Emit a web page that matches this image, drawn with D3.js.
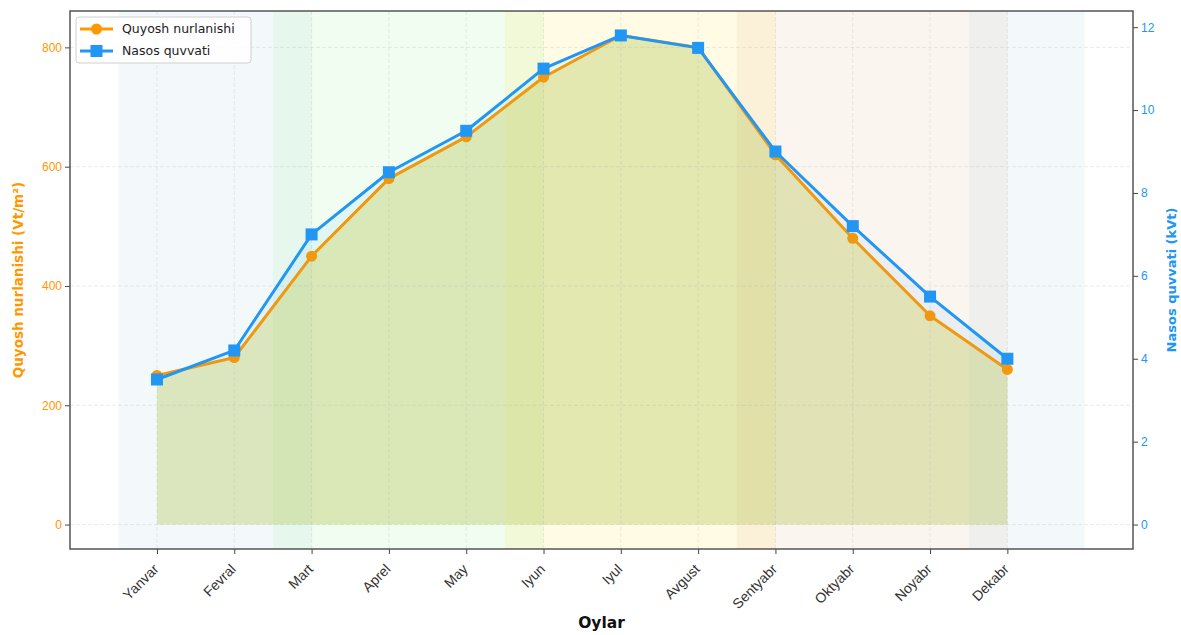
<!DOCTYPE html>
<html>
<head>
<meta charset="utf-8">
<script src="https://cdn.jsdelivr.net/npm/d3@7"></script>
<style>
  body { margin: 0; background: #fff; }
  svg { font-family: "DejaVu Sans", sans-serif; }
</style>
</head>
<body>
<div id="chart"></div>
<script>
// months on the x axis
const months = ['Yanvar', 'Fevral', 'Mart', 'Aprel', 'May', 'Iyun',
                'Iyul', 'Avgust', 'Sentyabr', 'Oktyabr', 'Noyabr', 'Dekabr'];
// solar irradiance, Vt/m2 (left axis)
const solar = [250, 280, 450, 580, 650, 750, 820, 800, 620, 480, 350, 260];
// pump power, kVt (right axis)
const pump = [3.5, 4.2, 7.0, 8.5, 9.5, 11.0, 11.8, 11.5, 9.0, 7.2, 5.5, 4.0];
// tick labels
const leftTicks = [0, 200, 400, 600, 800];
const rightTicks = [0, 2, 4, 6, 8, 10, 12];
// season bands: [start index, end index]
const seasonStart = [0, 2, 5, 8, 11];
const seasonEnd = [2, 5, 8, 11, 12];
const seasonColor = ['#ADD8E6', '#90EE90', '#FFD700', '#CD853F', '#ADD8E6'];
const seasonAlpha = [0.15, 0.13, 0.1, 0.08, 0.15];

const orange = '#FF9800';
const blue = '#2196F3';

const width = 1181;
const height = 635;
const m = {left: 70, right: 1133, top: 11, bottom: 549};

const svg = d3.select('#chart').append('svg')
    .attr('width', width)
    .attr('height', height);

const x = d3.scaleLinear().domain([-1.125, 12.625]).range([m.left, m.right]);
const yL = d3.scaleLinear().domain([-41, 861]).range([m.bottom, m.top]);
const yR = d3.scaleLinear().domain([-0.59, 12.39]).range([m.bottom, m.top]);

// season background
svg.append('g').selectAll('rect')
    .data(seasonStart)
    .enter()
    .append('rect')
    .attr('x', d => x(d - 0.5))
    .attr('width', (d, i) => x(seasonEnd[i]) - x(d - 0.5))
    .attr('y', m.top)
    .attr('height', m.bottom - m.top)
    .style('fill', (d, i) => seasonColor[i])
    .style('fill-opacity', (d, i) => seasonAlpha[i]);

// fill under solar curve
const areaL = d3.area()
    .x((d, i) => x(i))
    .y0(yL(0))
    .y1(d => yL(d));

svg.append('path')
    .datum(solar)
    .attr('d', areaL)
    .style('fill', '#D6CC28')
    .style('fill-opacity', 0.3);

// grid
const grid = svg.append('g')
    .style('stroke', '#b0b0b0')
    .style('stroke-opacity', 0.3)
    .style('stroke-dasharray', '4,2')
    .style('stroke-width', 0.8);

grid.selectAll('.gx')
    .data(months)
    .enter()
    .append('line')
    .attr('x1', (d, i) => x(i))
    .attr('x2', (d, i) => x(i))
    .attr('y1', m.top)
    .attr('y2', m.bottom);

grid.selectAll('.gy')
    .data(leftTicks)
    .enter()
    .append('line')
    .attr('x1', m.left)
    .attr('x2', m.right)
    .attr('y1', d => yL(d))
    .attr('y2', d => yL(d));

// solar line
const lineL = d3.line()
    .x((d, i) => x(i))
    .y(d => yL(d));

svg.append('path')
    .datum(solar)
    .attr('d', lineL)
    .style('fill', 'none')
    .style('stroke', orange)
    .style('stroke-width', 3)
    .style('stroke-linejoin', 'round');

svg.append('g').selectAll('circle')
    .data(solar)
    .enter()
    .append('circle')
    .attr('cx', (d, i) => x(i))
    .attr('cy', d => yL(d))
    .attr('r', 5.5)
    .style('fill', orange);

// fill under pump curve
const areaR = d3.area()
    .x((d, i) => x(i))
    .y0(yR(0))
    .y1(d => yR(d));

svg.append('path')
    .datum(pump)
    .attr('d', areaR)
    .style('fill', blue)
    .style('fill-opacity', 0.07);

const lineR = d3.line()
    .x((d, i) => x(i))
    .y(d => yR(d));

svg.append('path')
    .datum(pump)
    .attr('d', lineR)
    .style('fill', 'none')
    .style('stroke', blue)
    .style('stroke-width', 3)
    .style('stroke-linejoin', 'round');

svg.append('g').selectAll('rect')
    .data(pump)
    .enter()
    .append('rect')
    .attr('x', (d, i) => x(i) - 6)
    .attr('y', d => yR(d) - 6)
    .attr('width', 12)
    .attr('height', 12)
    .style('fill', blue);

// axes
const xAxis = svg.append('g')
    .attr('transform', `translate(0,${m.bottom})`)
    .call(d3.axisBottom(x).tickValues(d3.range(months.length)).tickFormat(i => months[i]).tickSize(5).tickSizeOuter(0));

xAxis.selectAll('text')
    .attr('transform', 'translate(2,21) rotate(-45)')
    .style('text-anchor', 'end')
    .attr('dy', 0)
    .attr('y', 0)
    .attr('x', 0)
    .style('font-size', '14px')
    .style('fill', '#333');

const yAxisL = svg.append('g')
    .attr('transform', `translate(${m.left},0)`)
    .call(d3.axisLeft(yL).tickValues(leftTicks).tickSize(5).tickSizeOuter(0));

yAxisL.selectAll('text')
    .style('font-size', '12px')
    .style('fill', orange);

const yAxisR = svg.append('g')
    .attr('transform', `translate(${m.right},0)`)
    .call(d3.axisRight(yR).tickValues(rightTicks).tickSize(5).tickSizeOuter(0));

yAxisR.selectAll('text')
    .style('font-size', '12px')
    .style('fill', blue);

svg.selectAll('.domain').remove();
svg.selectAll('.tick line').style('stroke', '#444');

// frame
svg.append('rect')
    .attr('x', m.left)
    .attr('y', m.top)
    .attr('width', m.right - m.left)
    .attr('height', m.bottom - m.top)
    .style('fill', 'none')
    .style('stroke', '#555')
    .style('stroke-width', 1.5);

// axis labels
svg.append('text')
    .attr('x', (m.left + m.right) / 2)
    .attr('y', 628)
    .attr('text-anchor', 'middle')
    .style('font-size', '15.5px')
    .style('font-weight', 'bold')
    .style('fill', '#111')
    .text('Oylar');

svg.append('text')
    .attr('transform', `translate(23,${(m.top + m.bottom) / 2}) rotate(-90)`)
    .attr('text-anchor', 'middle')
    .style('font-size', '13.5px')
    .style('font-weight', 'bold')
    .style('fill', orange)
    .text('Quyosh nurlanishi (Vt/m²)');

svg.append('text')
    .attr('transform', `translate(1176,${(m.top + m.bottom) / 2}) rotate(-90)`)
    .attr('text-anchor', 'middle')
    .style('font-size', '13px')
    .style('font-weight', 'bold')
    .style('fill', blue)
    .text('Nasos quvvati (kVt)');

// legend
const legend = svg.append('g');

legend.append('rect')
    .attr('x', 76)
    .attr('y', 17)
    .attr('width', 175)
    .attr('height', 46)
    .attr('rx', 3)
    .style('fill', '#fff')
    .style('fill-opacity', 0.85)
    .style('stroke', '#d0d0d0');

const legendNames = ['Quyosh nurlanishi', 'Nasos quvvati'];
const legendColors = [orange, blue];

legendNames.forEach(function(name, i) {
    const ly = 29 + i * 22;
    legend.append('line')
        .attr('x1', 80).attr('x2', 113)
        .attr('y1', ly).attr('y2', ly)
        .style('stroke', legendColors[i])
        .style('stroke-width', 3);
    if (i === 0) {
        legend.append('circle')
            .attr('cx', 96.5).attr('cy', ly).attr('r', 5.5)
            .style('fill', legendColors[i]);
    } else {
        legend.append('rect')
            .attr('x', 90.5).attr('y', ly - 6).attr('width', 12).attr('height', 12)
            .style('fill', legendColors[i]);
    }
    legend.append('text')
        .attr('x', 122)
        .attr('y', ly)
        .attr('dy', '0.35em')
        .style('font-size', '12.5px')
        .style('fill', '#222')
        .text(name);
});
</script>
</body>
</html>
